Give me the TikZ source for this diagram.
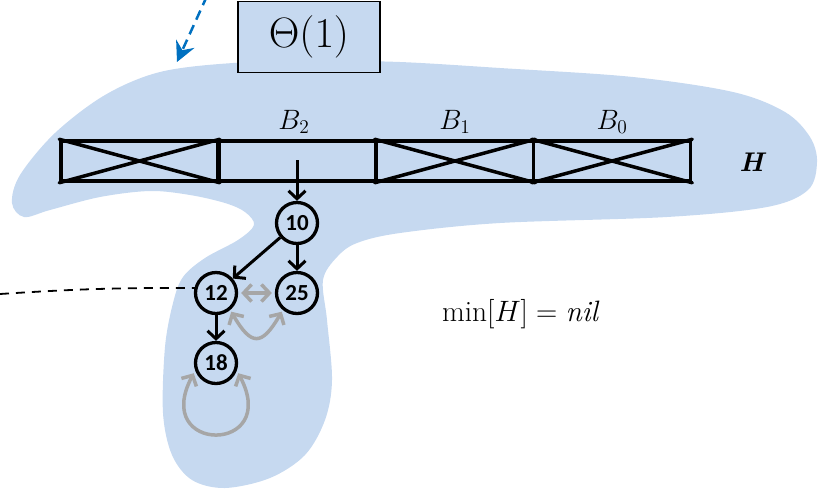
\documentclass[tikz,border=0pt]{standalone}
\usepackage{fontspec}
\newfontfamily\nodefont{Carlito}
\usetikzlibrary{arrows.meta}
\definecolor{blobc}{HTML}{C6D9F0}
\definecolor{arrblue}{HTML}{0070C0}
\definecolor{grayc}{HTML}{A6A6A6}
\begin{document}
\begin{tikzpicture}[x=1pt,y=-1pt,
  cell/.style={draw,line width=3.5pt,minimum width=157pt,minimum height=40pt,inner sep=0pt,line join=round},
  crossln/.style={line width=3.5pt,line cap=round},
  heapnode/.style={circle,draw,line width=3.3pt,minimum size=41pt,inner sep=0pt,font=\nodefont\bfseries\fontsize{23}{23}\selectfont},
  blackarr/.style={line width=3pt,-{Straight Barb[length=8pt,width=17pt,line width=3pt]}},
  grayarr/.style={grayc,line width=3.5pt,{Straight Barb[length=8pt,width=17pt,line width=3.5pt]}-{Straight Barb[length=8pt,width=17pt,line width=3.5pt]}},
  mfont/.style={font=\fontsize{20.74}{20.74}\selectfont},
]
\useasboundingbox (0,0) rectangle (818,491);
% blob
\fill[blobc] plot[smooth cycle, tension=0.55] coordinates {
 (160,72) (233,63) (320,61) (400,62) (500,68) (633,77) (733,92) (785,112)
 (810,137) (817,162) (808,190) (767,207) (667,217) (500,223) (400,233)
 (357,243) (337,257) (323,280) (327,320) (332,380) (325,420) (305,455)
 (270,478) (225,488) (192,480) (172,455) (163,413) (165,347)
 (173,303) (183,277) (205,258) (238,240) (254,225) (245,212) (225,203)
 (190,195) (150,191) (100,197) (50,210) (24,217) (12,203) (20,175)
 (55,133) (105,95)};
% Theta box
\node[draw,line width=1.8pt,fill=blobc,minimum width=142pt,minimum height=71pt,inner sep=0pt,
  mfont] (theta) at (309,37) {\scalebox{2.05}{$\Theta(1)$}};
% blue dashed arrow
\coordinate (ps) at (207,-4);
\coordinate (pe) at (177,62);
\draw[arrblue,line width=2.5pt,dash pattern=on 10pt off 6pt,
  -{Stealth[length=20pt,width=20pt,inset=7pt]}] (ps) -- (pe);
% root list cells
\node[cell] (c0) at (139.5,161) {};
\node[cell] (c1) at (297.5,161) {};
\node[cell] (c2) at (455,161) {};
\node[cell] (c3) at (612,161) {};
\foreach \c in {c0,c2,c3}{
  \draw[crossln] (\c.north west) -- (\c.south east);
  \draw[crossln] (\c.south west) -- (\c.north east);
}
\node[mfont,anchor=base] (lb2) at (294,129) {\scalebox{1.35}{$B_2$}};
\node[mfont,anchor=base] (lb1) at (455,129) {\scalebox{1.35}{$B_1$}};
\node[mfont,anchor=base] (lb0) at (612,129) {\scalebox{1.35}{$B_0$}};
\node[font=\fontsize{27}{27}\selectfont] (hl) at (753,162) {\textbf{\textit{H}}};
% heap nodes
\node[heapnode] (n10) at (297,223) {10};
\node[heapnode] (n12) at (216,293) {12};
\node[heapnode] (n25) at (297,293) {25};
\node[heapnode] (n18) at (216,363) {18};
\coordinate (ptr) at (297,160);
\draw[blackarr] (ptr) -- (n10.north);
\draw[blackarr] (n10) -- (n12);
\draw[blackarr] (n10) -- (n25);
\draw[blackarr] (n12) -- (n18);
% gray sibling / parent arrows
\draw[grayarr,shorten <=3pt,shorten >=3pt] (n12) -- (n25);
\draw[grayarr,shorten <=2pt,shorten >=2pt] (n12.-50) .. controls +(60:42) and +(120:42) .. (n25.-130);
\draw[grayarr,shorten <=3pt,shorten >=3pt] (n18.-160) .. controls +(118:95) and +(62:95) .. (n18.-20);
% dashed line
\coordinate (ds) at (0,294);
\coordinate (de) at (195,288);
\draw[line width=1.8pt,dash pattern=on 9pt off 7pt] (ds) to[bend left=2] (de);
% min label
\node[mfont] (minl) at (520,314) {\scalebox{1.42}{$\min[H] = \mathit{nil}$}};
\end{tikzpicture}
\end{document}
